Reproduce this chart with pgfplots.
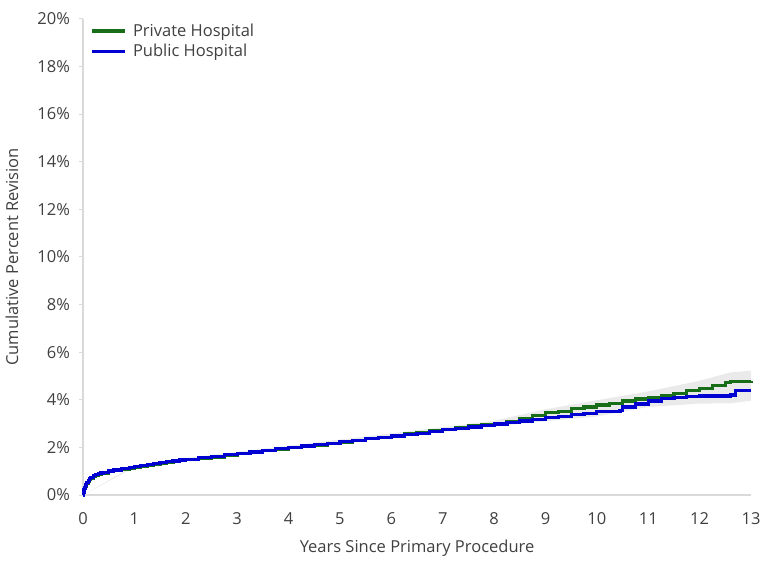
\documentclass[border=0pt]{standalone}
\usepackage{pgfplots}
\pgfplotsset{compat=1.18}
\usepackage{fontspec}
\setmainfont{Open Sans}
\definecolor{privgreen}{RGB}{24,110,24}
\definecolor{pubblue}{RGB}{0,0,210}
\definecolor{axgray}{RGB}{217,217,217}
\definecolor{txtgray}{RGB}{64,64,64}
\definecolor{bandgray}{RGB}{234,234,234}
\begin{document}
\fontsize{12.4}{15}\selectfont
\begin{tikzpicture}
\begin{axis}[
    name=ax,
    scale only axis,
    width=502pt, height=358pt,
    xmin=0, xmax=13, ymin=0, ymax=20,
    xtick={0,1,...,13}, ytick={0,2,...,20},
    yticklabel={\pgfmathprintnumber{\tick}\%},
    axis x line*=bottom, axis y line*=left,
    axis line style={axgray, line width=1.5pt},
    x axis line style={-}, y axis line style={-, line width=1pt},
    tick style={axgray, line width=0.6pt},
    major tick length=3pt,
    tick align=outside,
    xtick style={draw=none},
    ticklabel style={text=txtgray},
    xticklabel style={yshift=-6pt},
    yticklabel style={xshift=-2.5pt},
    /pgf/number format/assume math mode=true,
    xlabel={Years Since Primary Procedure},
    ylabel={Cumulative Percent Revision},
    label style={text=txtgray},
    xlabel style={yshift=-3pt},
    ylabel style={yshift=6pt},
    clip=false,
    legend style={at={(rel axis cs:0,1)}, anchor=north west, xshift=5pt, yshift=-1.5pt,
        draw=none, fill=none, text=txtgray, row sep=0pt, inner sep=0pt},
    legend cell align=left,
    legend image code/.code={\draw[#1, line width=2.4pt] (0pt,0pt) -- (25pt,0pt);
        \path (28pt,0pt);},
]
% confidence band
\addplot[fill=bandgray, draw=none, forget plot] coordinates {
(0,0) (1,1.24) (2,1.55) (3,1.81) (4,2.07) (5,2.33) (6,2.59) (7,2.85) (8,3.12)
(9,3.6) (10,3.98) (11,4.35) (12,4.8) (12.6,5.15) (13,5.22)
(13,3.96) (12.6,3.85) (12,3.84) (11,3.7) (10,3.3) (9,3.1) (8,2.88) (7,2.65)
(6,2.41) (5,2.17) (4,1.93) (3,1.69) (2,1.45) (1,1.16) (0,0)} -- cycle;
% private
\addplot[const plot, privgreen, line width=2.4pt] coordinates {
(0,0) (0.01,0.1) (0.02,0.2) (0.03,0.28) (0.05,0.38) (0.07,0.48) (0.1,0.58)
(0.12,0.64) (0.15,0.7) (0.2,0.77) (0.25,0.82) (0.3,0.86) (0.35,0.9)
(0.4,0.93) (0.5,0.98) (0.6,1.02) (0.75,1.08) (0.9,1.14) (1.0,1.18)
(1.125,1.22) (1.25,1.26) (1.375,1.3) (1.5,1.34) (1.625,1.38)
(1.75,1.41) (1.875,1.45) (2.0,1.48) (2.25,1.54) (2.5,1.6) (2.75,1.67) (3.0,1.73)
(3.25,1.79) (3.5,1.86) (3.75,1.92) (4.0,1.98) (4.25,2.04) (4.5,2.1)
(4.75,2.16) (5.0,2.23) (5.25,2.29) (5.5,2.36) (5.75,2.42) (6.0,2.5)
(6.25,2.56) (6.5,2.62) (6.75,2.69) (7.0,2.76) (7.25,2.83) (7.5,2.9)
(7.75,2.96) (8.0,3.02) (8.25,3.1) (8.5,3.2) (8.75,3.33) (9.0,3.45)
(9.25,3.52) (9.5,3.62) (9.75,3.7) (10.0,3.78) (10.25,3.85) (10.5,3.95)
(10.75,4.03) (11.0,4.1) (11.25,4.18) (11.5,4.28) (11.75,4.38) (12.0,4.48)
(12.25,4.6) (12.5,4.72) (12.6,4.78) (13.0,4.8)};
% public
\addplot[const plot, pubblue, line width=2.4pt] coordinates {
(0,0) (0.01,0.12) (0.02,0.22) (0.03,0.3) (0.05,0.42) (0.07,0.52) (0.1,0.62)
(0.12,0.68) (0.15,0.74) (0.2,0.81) (0.25,0.86) (0.3,0.9) (0.35,0.93)
(0.4,0.96) (0.5,1.01) (0.6,1.05) (0.75,1.11) (0.9,1.16) (1.0,1.2)
(1.125,1.24) (1.25,1.28) (1.375,1.32) (1.5,1.36) (1.625,1.4)
(1.75,1.43) (1.875,1.47) (2.0,1.5) (2.25,1.56) (2.5,1.62) (2.75,1.69) (3.0,1.75)
(3.25,1.81) (3.5,1.88) (3.75,1.94) (4.0,2.0) (4.25,2.06) (4.5,2.12)
(4.75,2.18) (5.0,2.24) (5.25,2.3) (5.5,2.36) (5.75,2.42) (6.0,2.48)
(6.25,2.54) (6.5,2.6) (6.75,2.67) (7.0,2.74) (7.25,2.8) (7.5,2.86)
(7.75,2.92) (8.0,2.98) (8.25,3.04) (8.5,3.11) (8.75,3.18) (9.0,3.25)
(9.25,3.3) (9.5,3.38) (9.75,3.44) (10.0,3.5) (10.45,3.56) (10.5,3.7)
(10.75,3.82) (11.0,3.95) (11.25,4.05) (11.5,4.1) (11.75,4.13) (12.0,4.16)
(12.6,4.2) (12.7,4.38) (13.0,4.38)};
\legend{Private Hospital, Public Hospital}
\end{axis}
\path ([yshift=14pt]ax.north west) ([xshift=7pt]ax.south east);
\end{tikzpicture}
\end{document}
